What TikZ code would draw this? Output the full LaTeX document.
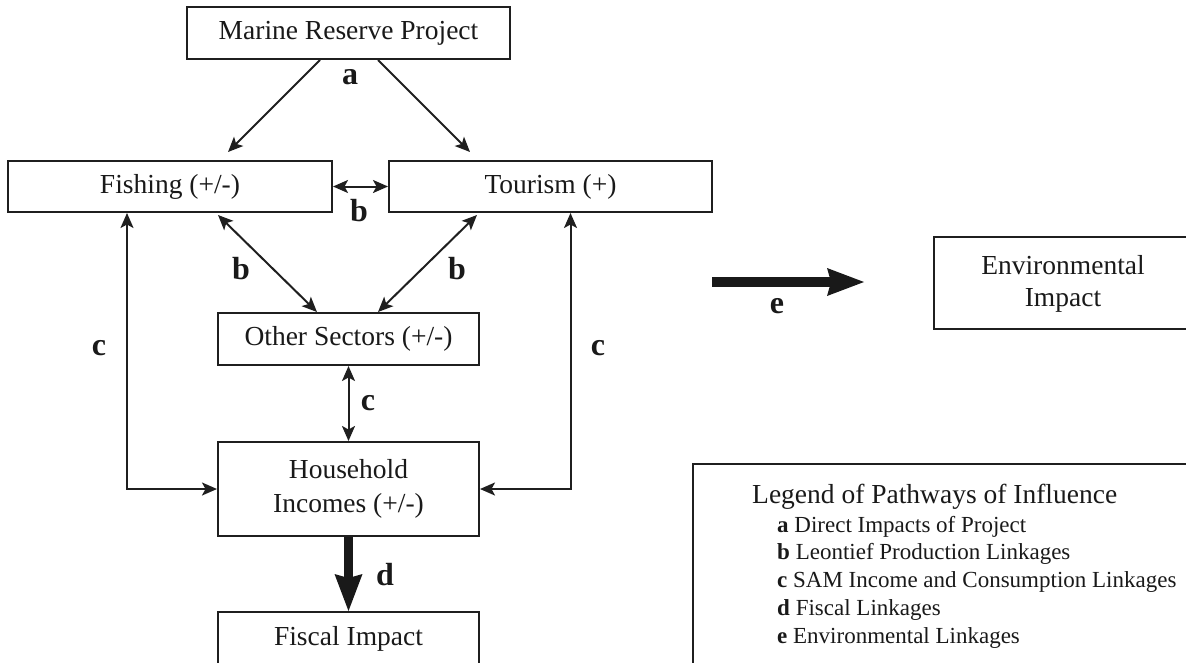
\documentclass[tikz,border=0pt]{standalone}
\usepackage{fontspec}
\setmainfont{Liberation Serif}
\usetikzlibrary{arrows.meta,calc}
\begin{document}
\begin{tikzpicture}[x=1pt,y=-1pt,
  box/.style={draw=black!88, line width=2pt, inner sep=0pt, align=center, text=black!90,
    font=\fontsize{27.5}{34}\selectfont},
  arr/.style={draw=black!88, line width=2pt, -{Stealth[length=15pt,width=13pt,inset=3.5pt]}},
  darr/.style={draw=black!88, line width=2pt,
    {Stealth[length=15pt,width=13pt,inset=3.5pt]}-{Stealth[length=15pt,width=13pt,inset=3.5pt]}},
  bigarr/.style={draw=black!90, line width=9pt, -{Stealth[length=37pt,width=28pt,inset=4pt,line width=0pt]}},
  lab/.style={font=\fontsize{32}{32}\selectfont\bfseries, inner sep=0pt, text=black!90},
  legt/.style={font=\fontsize{27.5}{30}\selectfont, inner sep=0pt, anchor=base west, text=black!90},
  legi/.style={font=\fontsize{23}{26}\selectfont, inner sep=0pt, anchor=base west, text=black!90},
]
\useasboundingbox (0,0) rectangle (1186,662);
% boxes
\node[box, minimum width=323pt, minimum height=52pt] (marine) at (348.5,33) {Marine Reserve Project};
\node[box, minimum width=324pt, minimum height=51pt] (fish) at (170,186.5) {Fishing (+/-)};
\node[box, minimum width=323pt, minimum height=51pt] (tour) at (550.5,186.5) {Tourism (+)};
\node[box, minimum width=261pt, minimum height=52pt] (other) at (348.5,339) {Other Sectors (+/-)};
\node[box, minimum width=261pt, minimum height=94pt] (house) at (348.5,489) {Household\\Incomes (+/-)};
\node[box, minimum width=261pt, minimum height=54pt] (fiscal) at (348.5,639) {Fiscal Impact};
\node[box, minimum width=280pt, minimum height=92pt, anchor=north west] (env) at (933,236) {};
\node[box, draw=none, align=center, font=\fontsize{27.5}{32}\selectfont] (envtext) at (1063,284) {Environmental\\Impact};
\node[box, minimum width=520pt, minimum height=230pt, anchor=north west] (legend) at (692,463) {};
% connectors
\draw[arr] ([shift={(-28.5,0)}]marine.south) -- ([shift={(58,-8)}]fish.north);
\draw[arr] ([shift={(29.5,0)}]marine.south) -- ([shift={(-80.5,-8)}]tour.north);
\draw[darr] (fish.east) -- (tour.west);
\draw[darr] ([shift={(48,2)}]fish.south) -- ([shift={(-31.5,0)}]other.north);
\draw[darr] ([shift={(-73.5,2)}]tour.south) -- ([shift={(29.5,0)}]other.north);
\draw[darr] ([shift={(-43,0)}]fish.south) |- (house.west);
\draw[darr] ([shift={(20,0)}]tour.south) |- (house.east);
\draw[darr] (other.south) -- (house.north);
\draw[bigarr] (house.south) -- (fiscal.north);
\coordinate (e1) at (712,282);
\coordinate (e2) at (864,282);
\draw[bigarr, line width=10pt] (e1) -- (e2);
% labels
\node[lab] (la) at (350,77) {a};
\node[lab] (lb1) at (359,211) {b};
\node[lab] (lb2) at (241,269) {b};
\node[lab] (lb3) at (457,269) {b};
\node[lab] (lc1) at (99,348) {c};
\node[lab] (lc2) at (598,348) {c};
\node[lab] (lc3) at (368,403) {c};
\node[lab] (ld) at (385,575) {d};
\node[lab] (le) at (777,306) {e};
% legend
\node[legt] (lt) at (752,503) {Legend of Pathways of Influence};
\node[legi] (l1) at (777,532) {\textbf{a} Direct Impacts of Project};
\node[legi] (l2) at (777,559.7) {\textbf{b} Leontief Production Linkages};
\node[legi] (l3) at (777,587.5) {\textbf{c} SAM Income and Consumption Linkages};
\node[legi] (l4) at (777,615.2) {\textbf{d} Fiscal Linkages};
\node[legi] (l5) at (777,643) {\textbf{e} Environmental Linkages};
\end{tikzpicture}
\end{document}
